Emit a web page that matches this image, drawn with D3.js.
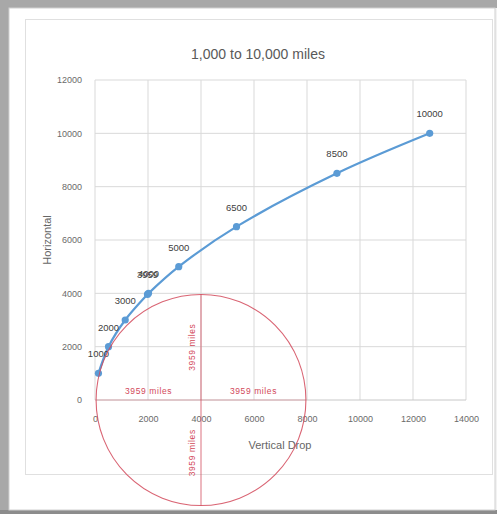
<!DOCTYPE html>
<html>
<head>
<meta charset="utf-8">
<script src="https://cdn.jsdelivr.net/npm/d3@7"></script>
<style>
  body { margin: 0; background: #fff; }
  text { font-family: "Liberation Sans Narrow", "Liberation Sans", Arial, sans-serif; }
</style>
</head>
<body>
<div id="chart"></div>
<script>
// values
const horizontal = [1000, 2000, 3000, 3959, 4000, 5000, 6500, 8500, 10000];
const verticalDrop = [130, 510, 1140, 1980, 2020, 3160, 5340, 9130, 12630];
const pointLabels = ["1000", "2000", "3000", "3959", "4000", "5000", "6500", "8500", "10000"];
const xTicks = [0, 2000, 4000, 6000, 8000, 10000, 12000, 14000];
const yTicks = [0, 2000, 4000, 6000, 8000, 10000, 12000];
const earthRadius = 3959;
const earthCenter = 4000;
const radiusLabel = "3959 miles";

const W = 497, H = 514;
const plot = { left: 95, right: 466, top: 80, bottom: 400 };

const svg = d3.select("#chart").append("svg")
    .attr("width", W).attr("height", H);

// picture frame with soft shadow on top/left/bottom
svg.append("rect").attr("width", W).attr("height", H).attr("fill", "#f2f2f2");
svg.append("rect").attr("x", 0).attr("y", 0).attr("width", W).attr("height", 8).attr("fill", "#a8a8a8");
svg.append("rect").attr("x", 0).attr("y", 0).attr("width", 9).attr("height", H).attr("fill", "#a8a8a8");
svg.append("rect").attr("x", 0).attr("y", 510).attr("width", W).attr("height", 4).attr("fill", "#8c8c8c");
svg.append("rect").attr("x", 9).attr("y", 8).attr("width", 486).attr("height", 502)
    .attr("fill", "#fff").attr("stroke", "#d0d0d0");
svg.append("rect").attr("x", 25.5).attr("y", 19.5).attr("width", 467).attr("height", 455)
    .attr("fill", "#fff").attr("stroke", "#e0e0e0");

const x = d3.scaleLinear().domain([0, 14000]).range([plot.left, plot.right]);
const y = d3.scaleLinear().domain([0, 12000]).range([plot.bottom, plot.top]);

// gridlines
svg.append("g").selectAll("line").data(xTicks).join("line")
    .attr("x1", d => x(d)).attr("x2", d => x(d))
    .attr("y1", plot.top).attr("y2", plot.bottom)
    .attr("stroke", "#d9d9d9");
svg.append("g").selectAll("line").data(yTicks).join("line")
    .attr("x1", plot.left).attr("x2", plot.right)
    .attr("y1", d => y(d)).attr("y2", d => y(d))
    .attr("stroke", d => d === 0 ? "#c8c8c8" : "#d9d9d9");

// axes (labels only)
const xAxis = svg.append("g").attr("transform", `translate(0,${plot.bottom + 13})`)
    .call(d3.axisBottom(x).tickValues(xTicks).tickSize(0).tickFormat(d3.format("d")));
const yAxis = svg.append("g").attr("transform", `translate(${plot.left - 10},0)`)
    .call(d3.axisLeft(y).tickValues(yTicks).tickSize(0).tickFormat(d3.format("d")));
[xAxis, yAxis].forEach(a => {
    a.select(".domain").remove();
    a.selectAll("text").attr("fill", "#6a6a6a").style("font-size", "9px");
});

// title and axis titles
svg.append("text").attr("x", 258).attr("y", 59).attr("text-anchor", "middle")
    .attr("fill", "#595959").style("font-family", "'Liberation Sans', Arial, sans-serif")
    .style("font-size", "14px").text("1,000 to 10,000 miles");
svg.append("text").attr("x", 280).attr("y", 449).attr("text-anchor", "middle")
    .attr("fill", "#666").style("font-size", "11px").text("Vertical Drop");
svg.append("text").attr("transform", "translate(51,240) rotate(-90)").attr("text-anchor", "middle")
    .attr("fill", "#666").style("font-size", "11px").text("Horizontal");

// data series
const pts = horizontal.map((h, i) => ({ h, d: verticalDrop[i], label: pointLabels[i] }));
svg.append("path").datum(pts)
    .attr("fill", "none").attr("stroke", "#5b9bd5").attr("stroke-width", 2.2)
    .attr("d", d3.line().x(p => x(p.d)).y(p => y(p.h)).curve(d3.curveCatmullRom));
svg.append("g").selectAll("circle").data(pts).join("circle")
    .attr("cx", p => x(p.d)).attr("cy", p => y(p.h)).attr("r", 3.6)
    .attr("fill", "#5b9bd5");
svg.append("g").selectAll("text").data(pts).join("text")
    .attr("x", p => x(p.d)).attr("y", p => y(p.h) - 16)
    .attr("text-anchor", "middle").attr("fill", "#404040")
    .style("font-size", "9.5px").text(p => p.label);

// earth circle overlay
const red = "#d2495a";
const cx = x(earthCenter), cy = y(0);
const rx = x(earthRadius) - x(0), ry = y(0) - y(earthRadius);
const earth = svg.append("g");
earth.append("ellipse").attr("cx", cx).attr("cy", cy).attr("rx", rx).attr("ry", ry)
    .attr("fill", "none").attr("stroke", red).attr("stroke-width", 1.1).attr("opacity", 0.85);
earth.append("line").attr("x1", cx).attr("x2", cx).attr("y1", cy - ry).attr("y2", cy + ry)
    .attr("stroke", red).attr("stroke-width", 1.1).attr("opacity", 0.7);
earth.append("line").attr("x1", cx - rx).attr("x2", cx + rx).attr("y1", cy).attr("y2", cy)
    .attr("stroke", red).attr("stroke-width", 1).attr("opacity", 0.35);

const redLabels = [
    { dx: -earthRadius / 2, dy: 0, rot: 0 },
    { dx: earthRadius / 2, dy: 0, rot: 0 },
    { dx: 0, dy: earthRadius / 2, rot: -90 },
    { dx: 0, dy: -earthRadius / 2, rot: -90 }
];
earth.selectAll("text").data(redLabels).join("text")
    .attr("transform", d => d.rot
        ? `translate(${cx - 6},${y(d.dy)}) rotate(-90)`
        : `translate(${x(earthCenter + d.dx)},${cy - 6})`)
    .attr("text-anchor", "middle").attr("fill", red)
    .style("font-size", "8.5px").style("letter-spacing", "0.6px")
    .text(radiusLabel);
</script>
</body>
</html>
